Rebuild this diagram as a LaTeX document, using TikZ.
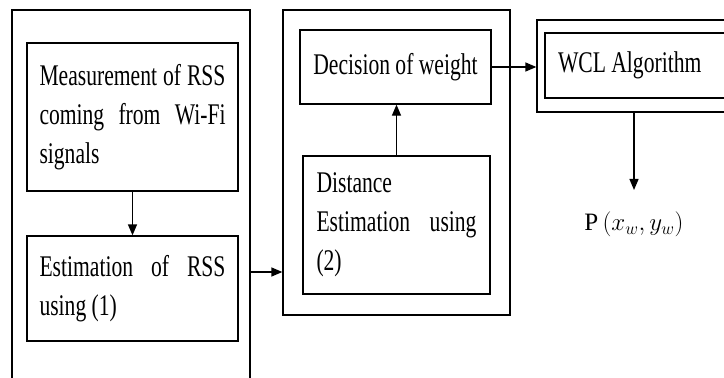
\documentclass[tikz,border=0pt]{standalone}
\usepackage{fix-cm}
\usepackage{fontspec}
\setmainfont{Liberation Serif}[FakeStretch=0.72]
\newfontfamily\uprightserif{Liberation Serif}
\usetikzlibrary{arrows.meta}

\begin{document}
\begin{tikzpicture}[x=1pt, y=-1pt,
  frame/.style={draw, line width=1.3pt, inner sep=0pt},
  box/.style={draw, line width=1.3pt, align=justify, inner xsep=0pt, inner ysep=0pt,
    font=\fontsize{30}{39}\selectfont},
  arr/.style={line width=1.3pt, -{Triangle[length=11pt,width=9pt]}}]

\useasboundingbox (0,0) rectangle (724,378);
\clip (0,0) rectangle (724,378);

% stage frames
\node[frame, minimum width=238pt, minimum height=524pt] (outer1) at (131,272) {};
\node[frame, minimum width=227pt, minimum height=305pt] (outer2) at (396.5,162.5) {};

% first stage
\node[box, minimum width=211pt, minimum height=148pt, text width=186pt] (meas) at (132.5,117)
  {Measurement of RSS\linebreak coming from Wi-Fi\linebreak signals};
\node[box, minimum width=211pt, minimum height=105pt, text width=186pt] (est) at (132.5,288.5)
  {Estimation of RSS\linebreak using (1)};

% second stage
\node[box, minimum width=187pt, minimum height=138pt, text width=160pt] (dist) at (396.5,225)
  {Distance\\ Estimation using\linebreak (2)};
\node[box, align=flush center, minimum width=191pt, minimum height=74pt, text width=180pt] (dec) at (395.5,67)
  {Decision of weight};

% algorithm block
\node[frame, minimum width=203pt, minimum height=92pt] (wclout) at (638.5,66) {};
\node[box, align=flush left, minimum width=187pt, minimum height=65pt, text width=161pt] (wcl) at (638.5,65.5)
  {WCL Algorithm};

% output position
\node[font=\fontsize{25}{28}\selectfont\uprightserif] (pos) at (634,224) {P\,$(x_w, y_w)$};

% connectors
\draw[arr] (meas.south) -- (est.north);
\draw[arr] (outer1.east) -- (outer1.east -| outer2.west);
\draw[arr] (dist.north) -- (dist.north |- dec.south);
\draw[arr] (dec.east) -- (dec.east -| wclout.west);
\draw[arr, shorten >=18pt] (wclout.south -| pos) -- (pos.north);
\end{tikzpicture}
\end{document}
